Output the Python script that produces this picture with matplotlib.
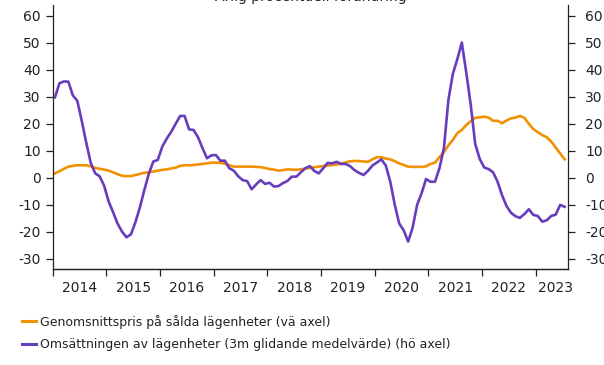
import matplotlib
matplotlib.use("Agg")
import matplotlib.pyplot as plt
from matplotlib.lines import Line2D
import numpy as np

plt.rcParams['font.family'] = ['DejaVu Sans']

# Monthly series, Jan 2014 – Jul 2023
years = ["2014", "2015", "2016", "2017", "2018", "2019", "2020", "2021", "2022", "2023"]

price_change = [
    1.6, 2.4, 3.3, 4.1, 4.4, 4.6, 4.6, 4.6, 4.2, 3.6, 3.3, 3.0,
    2.6, 2.0, 1.3, 0.7, 0.6, 0.6, 1.0, 1.4, 1.8, 2.0, 2.3, 2.6,
    2.9, 3.1, 3.4, 3.7, 4.4, 4.6, 4.6, 4.7, 4.9, 5.1, 5.3, 5.6,
    5.6, 5.5, 5.2, 4.6, 4.1, 4.1, 4.1, 4.1, 4.1, 4.0, 3.9, 3.6,
    3.2, 3.0, 2.6, 2.8, 3.1, 3.0, 2.9, 3.1, 3.4, 3.6, 3.9, 4.1,
    4.3, 4.5, 4.7, 4.9, 5.2, 5.6, 6.1, 6.2, 6.2, 6.0, 5.9, 6.8,
    7.6, 7.6, 7.1, 6.8, 6.1, 5.3, 4.7, 4.1, 4.0, 4.0, 4.0, 4.2,
    5.1, 5.6, 7.6, 9.5, 12.0, 14.0, 16.5, 17.7, 19.5, 21.0, 22.2, 22.4,
    22.6, 22.3, 21.1, 21.1, 20.2, 21.2, 22.0, 22.3, 22.9, 22.2, 20.0, 18.0,
    16.9, 15.8, 15.0, 13.4, 11.2, 9.0, 6.8,
]

turnover_change = [
    29.8, 35.0, 35.7, 35.6, 30.5, 28.5, 21.0, 13.0, 5.5, 1.6, 0.5, -3.0,
    -8.8, -12.8, -17.0, -20.0, -22.1, -21.0, -16.5, -11.0, -4.5, 1.5, 6.0, 6.6,
    11.5, 14.5, 17.0, 20.0, 22.9, 22.9, 17.9, 17.7, 15.0, 11.0, 7.2, 8.3,
    8.4, 6.3, 6.3, 3.5, 2.6, 0.5, -0.9, -1.3, -4.3, -2.5, -0.9, -2.3,
    -1.9, -3.3, -3.1, -2.0, -1.2, 0.4, 0.4, 2.0, 3.5, 4.3, 2.5, 1.6,
    3.5, 5.5, 5.3, 5.9, 5.1, 5.1, 4.3, 2.8, 1.8, 1.0, 2.5, 4.5,
    5.6, 6.8, 4.5, -1.5, -10.0, -17.0, -19.5, -23.7, -18.5, -10.1, -5.8, -0.5,
    -1.5, -1.5, 3.5, 11.0, 28.8, 38.5, 44.0, 50.1, 39.0, 27.0, 12.5, 7.0,
    3.8, 3.2, 2.0, -1.5, -6.5, -10.5, -13.0, -14.3, -14.9, -13.5, -11.7, -13.8,
    -14.2, -16.3, -15.8, -14.2, -13.7, -10.1, -10.8,
]

y_ticks = [-30, -20, -10, 0, 10, 20, 30, 40, 50, 60]

label_price = "Genomsnittspris på sålda lägenheter (vä axel)"
label_turnover = "Omsättningen av lägenheter (3m glidande medelvärde) (hö axel)"
title = "Årlig procentuell förändring"

ORANGE = "#F29100"
PURPLE = "#673DBE"
TEXT = "#222222"

fig = plt.figure(figsize=(6.04, 3.65), dpi=100)
ax = fig.add_axes([0.0873, 0.262, 0.8527, 0.724])
ax2 = ax.twinx()

x = np.arange(len(price_change))
ax.plot(x, price_change, color=ORANGE, lw=1.9, solid_joinstyle='round')
ax2.plot(x, turnover_change, color=PURPLE, lw=1.9, solid_joinstyle='round')

xmin, xmax = -0.5, 114.7
for a in (ax, ax2):
    a.set_xlim(xmin, xmax)
    a.set_ylim(-34, 64)
    a.set_yticks(y_ticks)
    a.set_yticklabels([str(v) for v in y_ticks])
    a.spines['top'].set_visible(False)
    for s in a.spines.values():
        s.set_color(TEXT)
        s.set_linewidth(0.9)

ax.spines['right'].set_visible(False)
ax2.spines['left'].set_visible(False)

ax.tick_params(axis='y', direction='out', length=5, width=0.9, pad=3.5,
               labelsize=10, colors=TEXT)
ax2.tick_params(axis='y', direction='out', length=5, width=0.9, pad=7.5,
                labelsize=10, colors=TEXT)

# Year boundaries as ticks, year names centred in between
boundaries = [12 * k - 0.5 for k in range(len(years))]
centres = [12 * k + 5.5 for k in range(len(years) - 1)] + [112.0]
ax.set_xticks(boundaries)
ax.set_xticklabels([""] * len(boundaries))
ax.set_xticks(centres, minor=True)
ax.set_xticklabels(years, minor=True)
ax.tick_params(axis='x', which='major', direction='out', length=5, width=0.9, colors=TEXT)
ax.tick_params(axis='x', which='minor', length=0, pad=8.5, labelsize=10, colors=TEXT)

fig.text(0.515, 1 - 1.0 / 365, title, ha='center', va='baseline',
         fontsize=10, color=TEXT)

handles = [Line2D([], [], color=ORANGE, lw=2.2),
           Line2D([], [], color=PURPLE, lw=2.2)]
fig.legend(handles, [label_price, label_turnover], loc='upper left',
           bbox_to_anchor=(0.037, 0.138), frameon=False, fontsize=9,
           handlelength=1.1, handletextpad=0.3, labelspacing=0.75,
           borderaxespad=0, borderpad=0, labelcolor=TEXT)

fig.savefig("out.png", dpi=100)
